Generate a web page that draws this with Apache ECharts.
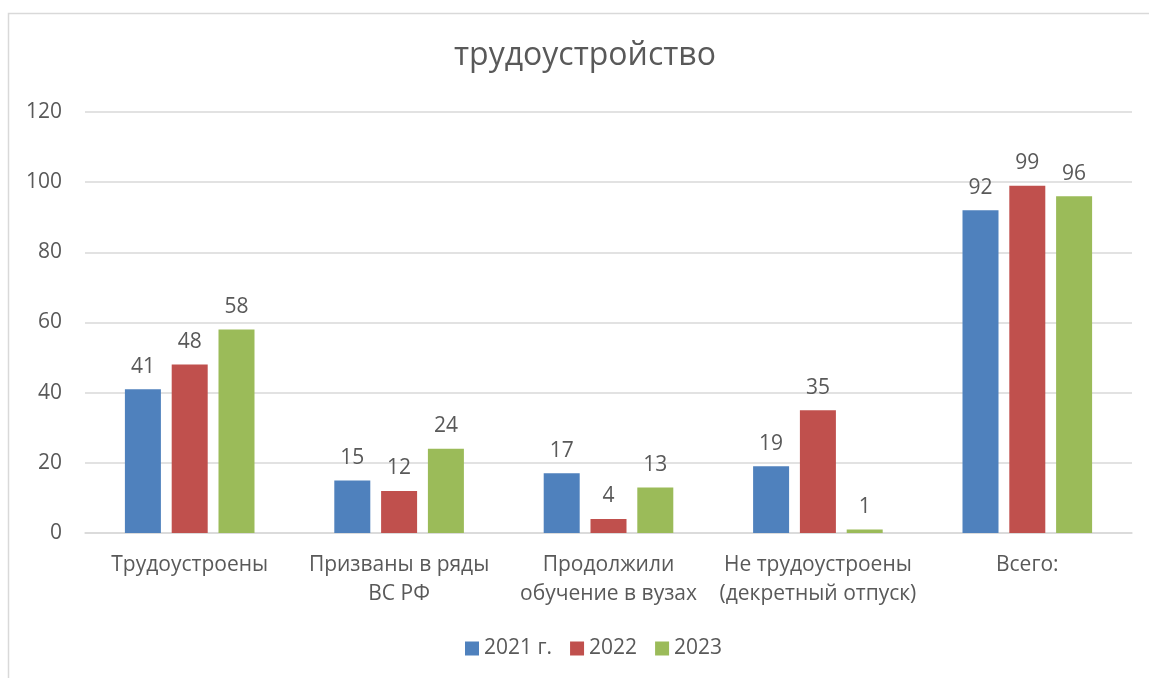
<!DOCTYPE html>
<html>
<head>
<meta charset="utf-8">
<script src="https://cdn.jsdelivr.net/npm/echarts@6/dist/echarts.min.js"></script>
<style>
  html, body { margin: 0; padding: 0; background: #fff; }
  #chart { width: 1149px; height: 678px; }
</style>
</head>
<body>
<div id="chart"></div>
<script>
const categories = ['Трудоустроены', 'Призваны в ряды\nВС РФ', 'Продолжили\nобучение в вузах', 'Не трудоустроены\n(декретный отпуск)', 'Всего:']
const seriesNames = ['2021 г.', '2022', '2023']
const values2021 = [41, 15, 17, 19, 92]
const values2022 = [48, 12, 4, 35, 99]
const values2023 = [58, 24, 13, 1, 96]
const colors = ['#4f81bd', '#c0504d', '#9bbb59']

const FONT = '"Open Sans", "Noto Sans", sans-serif'
const TEXT = '#595959'

const chart = echarts.init(document.getElementById('chart'))

const barSeries = [values2021, values2022, values2023].map((data, i) => ({
  name: seriesNames[i],
  type: 'bar',
  data,
  barWidth: 36,
  barGap: '30%',
  itemStyle: { color: colors[i] },
  label: {
    show: true,
    position: 'top',
    distance: 12,
    color: TEXT,
    fontFamily: FONT,
    fontSize: 21,
  },
}))

chart.setOption({
  animation: false,
  backgroundColor: '#fff',
  // рамка области диаграммы
  graphic: [
    {
      type: 'rect',
      shape: { x: 8.5, y: 13.5, width: 1200, height: 700 },
      style: { fill: 'none', stroke: '#d9d9d9', lineWidth: 1.5 },
      silent: true,
    },
  ],
  title: {
    text: 'трудоустройство',
    left: 449,
    top: 35,
    textStyle: {
      color: TEXT,
      fontFamily: FONT,
      fontSize: 32,
      fontWeight: 'normal',
    },
  },
  legend: {
    bottom: 14,
    left: 460,
    itemWidth: 14,
    itemHeight: 14,
    itemGap: 18,
    icon: 'rect',
    data: seriesNames,
    textStyle: { color: TEXT, fontFamily: FONT, fontSize: 21 },
  },
  grid: {
    left: 85,
    right: 17,
    top: 112,
    bottom: 145,
    containLabel: false,
  },
  xAxis: {
    type: 'category',
    data: categories,
    axisTick: { show: false },
    axisLine: { show: true, lineStyle: { color: '#d9d9d9', width: 1.5 } },
    axisLabel: {
      color: TEXT,
      fontFamily: FONT,
      fontSize: 21,
      lineHeight: 29,
      margin: 18,
      interval: 0,
    },
  },
  yAxis: {
    type: 'value',
    min: 0,
    max: 120,
    interval: 20,
    axisLine: { show: false },
    axisTick: { show: false },
    splitLine: { lineStyle: { color: '#d9d9d9', width: 1.5 } },
    axisLabel: {
      color: TEXT,
      fontFamily: FONT,
      fontSize: 21,
      margin: 23,
    },
  },
  series: barSeries,
})
</script>
</body>
</html>
